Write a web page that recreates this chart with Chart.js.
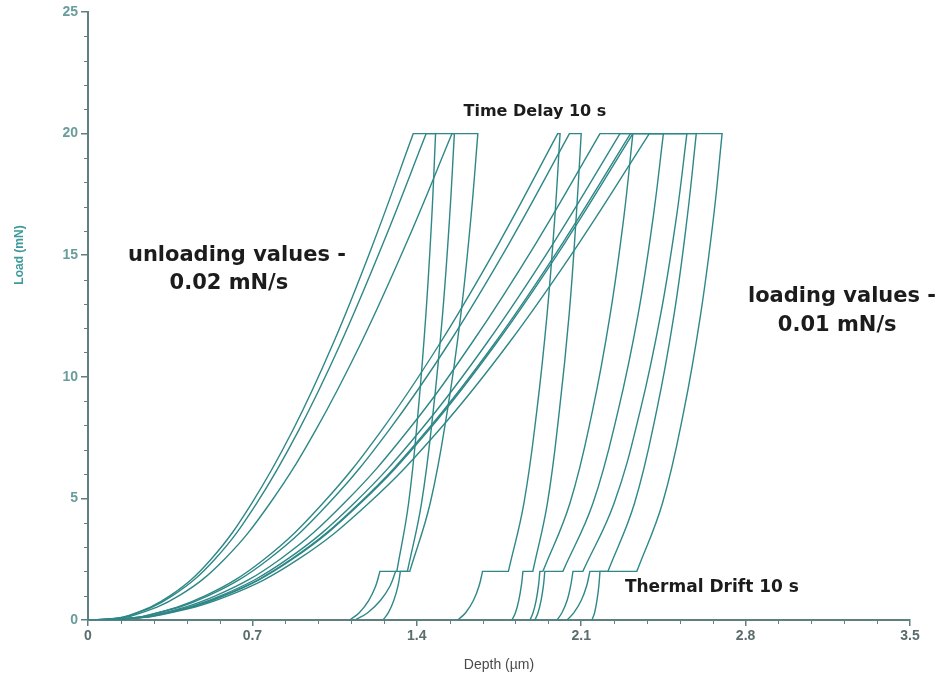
<!DOCTYPE html>
<html>
<head>
<meta charset="utf-8">
<title>Load - Depth</title>
<script src="https://cdn.jsdelivr.net/npm/chart.js@4.4.1/dist/chart.umd.min.js"></script>
<style>
  html, body { margin: 0; padding: 0; background: #fff; }
  canvas { display: block; }
</style>
</head>
<body>
<canvas id="loadChart" width="939" height="674"></canvas>
<script>
// load levels (mN) at which the traced depths were read
const loadSteps   = [0, 0.03, 0.19, 1.0, 2.5, 4.8, 7.8, 11.4, 15.5, 20];
const unloadSteps = [20, 16.6, 12.6, 8.6, 4.8, 2];
const dropSteps   = [2, 1.4, 0.8, 0.3, 0];

// depth (µm) reached at each load level, one row per indent
const loadDepths = [
  [0, 0.071, 0.175, 0.350, 0.524, 0.697, 0.872, 1.045, 1.215, 1.385],
  [0, 0.078, 0.194, 0.388, 0.581, 0.775, 0.969, 1.163, 1.356, 1.55],
  [0, 0.073, 0.180, 0.360, 0.540, 0.718, 0.897, 1.077, 1.257, 1.44],
  [0, 0.100, 0.250, 0.500, 0.750, 1.000, 1.250, 1.500, 1.750, 2.00],
  [0, 0.103, 0.256, 0.513, 0.769, 1.025, 1.281, 1.538, 1.794, 2.05],
  [0, 0.109, 0.273, 0.545, 0.818, 1.090, 1.363, 1.635, 1.908, 2.18],
  [0, 0.113, 0.283, 0.566, 0.849, 1.133, 1.416, 1.699, 1.982, 2.265],
  [0, 0.116, 0.289, 0.578, 0.866, 1.155, 1.444, 1.733, 2.021, 2.31],
  [0, 0.116, 0.290, 0.580, 0.870, 1.160, 1.450, 1.740, 2.030, 2.32],
  [0, 0.120, 0.299, 0.598, 0.896, 1.195, 1.494, 1.793, 2.091, 2.39]
];
const unloadDepths = [
  [1.48, 1.464, 1.439, 1.406, 1.365, 1.315],
  [1.56, 1.540, 1.510, 1.470, 1.420, 1.360],
  [1.66, 1.631, 1.588, 1.530, 1.457, 1.370],
  [2.01, 1.988, 1.955, 1.911, 1.856, 1.790],
  [2.10, 2.079, 2.049, 2.007, 1.956, 1.894],
  [2.32, 2.282, 2.224, 2.148, 2.052, 1.937],
  [2.45, 2.407, 2.343, 2.257, 2.150, 2.022],
  [2.55, 2.506, 2.439, 2.351, 2.240, 2.107],
  [2.59, 2.552, 2.496, 2.421, 2.327, 2.214],
  [2.70, 2.664, 2.609, 2.537, 2.446, 2.337]
];
const dropDepths = [
  [1.243, 1.225, 1.195, 1.155, 1.115],
  [1.310, 1.286, 1.245, 1.191, 1.137],
  [1.330, 1.320, 1.302, 1.279, 1.256],
  [1.680, 1.665, 1.641, 1.608, 1.575],
  [1.852, 1.845, 1.834, 1.820, 1.805],
  [1.924, 1.918, 1.908, 1.895, 1.882],
  [1.945, 1.939, 1.929, 1.916, 1.903],
  [2.065, 2.055, 2.040, 2.018, 1.997],
  [2.137, 2.123, 2.100, 2.069, 2.039],
  [2.180, 2.175, 2.167, 2.157, 2.146]
];

const xTicks = [0, 0.7, 1.4, 2.1, 2.8, 3.5];
const yTicks = [0, 5, 10, 15, 20, 25];

const LINE = '#2f8787';
const AXIS = '#5e8080';

// each trace = loading, unloading and final drop; segment ends are doubled
// so the holds between them stay straight while the curves are smoothed
function buildTrace(i) {
  const pts = [];
  const addSeg = (depths, loads) => {
    depths.forEach((d, k) => {
      pts.push({ x: d, y: loads[k] });
      if (k === 0 || k === depths.length - 1) pts.push({ x: d, y: loads[k] });
    });
  };
  addSeg(loadDepths[i], loadSteps);
  addSeg(unloadDepths[i], unloadSteps);
  addSeg(dropDepths[i], dropSteps);
  return {
    data: pts,
    showLine: true,
    borderColor: LINE,
    borderWidth: 1.4,
    pointRadius: 0,
    tension: 0.4,
    fill: false
  };
}

const minorTicks = {
  id: 'minorTicks',
  afterDraw(chart) {
    const { ctx, scales: { x, y } } = chart;
    ctx.save();
    ctx.strokeStyle = AXIS;
    ctx.lineWidth = 1;
    ctx.beginPath();
    for (let i = 1; i < 25; i++) {
      if (i % 5 === 0) continue;
      const py = Math.round(y.getPixelForValue(i)) + 0.5;
      ctx.moveTo(x.left - 4, py);
      ctx.lineTo(x.left, py);
    }
    for (let i = 1; i < 25; i++) {
      if (i % 5 === 0) continue;
      const px = Math.round(x.getPixelForValue(i * 0.14)) + 0.5;
      ctx.moveTo(px, y.bottom);
      ctx.lineTo(px, y.bottom + 4);
    }
    ctx.stroke();
    ctx.restore();
  }
};

const notes = {
  id: 'notes',
  afterDraw(chart) {
    const { ctx, scales: { x, y } } = chart;
    ctx.save();
    ctx.textBaseline = 'middle';
    ctx.fillStyle = '#1c1c1c';

    ctx.font = 'bold 16px "DejaVu Sans"';
    ctx.textAlign = 'center';
    ctx.fillText('Time Delay 10 s', x.getPixelForValue(1.903), y.getPixelForValue(20.9));
    ctx.textAlign = 'left';
    ctx.font = 'bold 17px "DejaVu Sans"';
    ctx.fillText('Thermal Drift 10 s', x.getPixelForValue(2.286), y.getPixelForValue(1.32));

    ctx.font = 'bold 21px "DejaVu Sans"';
    ctx.textAlign = 'left';
    ctx.fillText('unloading values -', x.getPixelForValue(0.17), y.getPixelForValue(15.0));
    ctx.textAlign = 'center';
    ctx.fillText('0.02 mN/s', x.getPixelForValue(0.6), y.getPixelForValue(13.85));
    ctx.textAlign = 'left';
    ctx.fillText('loading values -', x.getPixelForValue(2.81), y.getPixelForValue(13.3));
    ctx.textAlign = 'center';
    ctx.fillText('0.01 mN/s', x.getPixelForValue(3.19), y.getPixelForValue(12.09));

    // y axis title sits above the axis centre in the original
    ctx.translate(20, 255);
    ctx.rotate(-Math.PI / 2);
    ctx.font = 'bold 12px "Liberation Sans"';
    ctx.fillStyle = '#3f9a9a';
    ctx.fillText('Load (mN)', 0, 0);
    ctx.restore();
  }
};

new Chart(document.getElementById('loadChart'), {
  type: 'scatter',
  data: { datasets: loadDepths.map((_, i) => buildTrace(i)) },
  options: {
    responsive: false,
    animation: false,
    layout: { padding: { left: 0, right: 29, top: 12, bottom: 0 } },
    plugins: { legend: { display: false }, tooltip: { enabled: false } },
    scales: {
      x: {
        type: 'linear',
        min: 0,
        max: 3.5,
        afterBuildTicks: s => { s.ticks = xTicks.map(v => ({ value: v })); },
        afterFit: s => { s.height = 54; },
        border: { color: AXIS, width: 2 },
        grid: { drawOnChartArea: false, drawTicks: true, tickLength: 6, color: AXIS, lineWidth: 1.5 },
        ticks: {
          color: '#5a6c6c',
          padding: 2,
          font: { family: 'Liberation Sans', size: 14, weight: 'bold' },
          callback: v => String(v)
        },
        title: {
          display: true,
          text: 'Depth (µm)',
          color: '#4a4a4a',
          padding: { top: 1, bottom: 0 },
          font: { family: 'Liberation Sans', size: 14 }
        }
      },
      y: {
        type: 'linear',
        min: 0,
        max: 25,
        afterBuildTicks: s => { s.ticks = yTicks.map(v => ({ value: v })); },
        afterFit: s => { s.width = 88; },
        border: { color: AXIS, width: 2 },
        grid: { drawOnChartArea: false, drawTicks: true, tickLength: 7, color: AXIS, lineWidth: 1.5 },
        ticks: {
          color: '#6a9c9c',
          padding: 3,
          font: { family: 'Liberation Sans', size: 14, weight: 'bold' },
          callback: v => String(v)
        }
      }
    }
  },
  plugins: [minorTicks, notes]
});
</script>
</body>
</html>
